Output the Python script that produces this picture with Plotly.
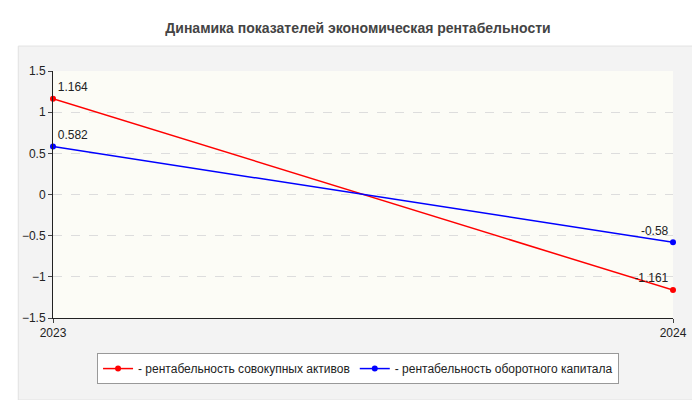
import plotly.graph_objects as go

years = ["2023", "2024"]
assets = [1.164, -1.161]
working_capital = [0.582, -0.58]

RED = "#ff0000"
BLUE = "#0000ff"

fig = go.Figure()
for name, vals, color in [
    ("- рентабельность совокупных активов", assets, RED),
    ("- рентабельность оборотного капитала", working_capital, BLUE),
]:
    fig.add_scatter(
        x=[0, 1], y=vals, mode="lines+markers+text", name=name,
        line=dict(color=color, width=1.5), marker=dict(color=color, size=6),
        text=[f"{v:g}" for v in vals], textposition=["top right", "top left"],
        textfont=dict(size=12, color="#222"),
    )

# light gray panel behind the chart, then the pale plot area on top of it
fig.add_shape(type="rect", xref="paper", yref="paper",
              x0=-0.056, x1=1.040, y0=-0.332, y1=1.101,
              fillcolor="#f3f3f3", line=dict(color="#e2e2e2", width=1), layer="below")
fig.add_shape(type="rect", xref="paper", yref="paper",
              x0=0, x1=1, y0=0, y1=1,
              fillcolor="#fcfcf6", line=dict(width=0), layer="below")

fig.update_layout(
    width=700, height=400,
    margin=dict(l=45, r=35, t=63, b=90, autoexpand=False),
    paper_bgcolor="white", plot_bgcolor="#fcfcf6",
    font=dict(family="Arial, Liberation Sans", size=12, color="#222"),
    title=dict(text="<b>Динамика показателей экономическая рентабельности</b>",
               x=0.5, y=0.95, xanchor="center", yanchor="middle", yref="container",
               font=dict(size=14, color="#444")),
    xaxis=dict(range=[0, 1], tickvals=[0, 1], ticktext=years, showgrid=False,
               showline=True, linecolor="#222", ticks="outside", ticklen=4,
               zeroline=False, automargin=False),
    yaxis=dict(range=[-1.5, 1.5], dtick=0.5, showline=True, linecolor="#222",
               ticks="outside", ticklen=4, gridcolor="#dddddd", griddash="dash",
               zeroline=False, automargin=False),
    legend=dict(orientation="h", x=0.492, xanchor="center", y=-0.142, yanchor="top",
                bgcolor="white", bordercolor="#999", borderwidth=1,
                font=dict(size=12), itemwidth=30),
    showlegend=True,
)
fig.update_traces(cliponaxis=False)

fig.write_html("out.html")
